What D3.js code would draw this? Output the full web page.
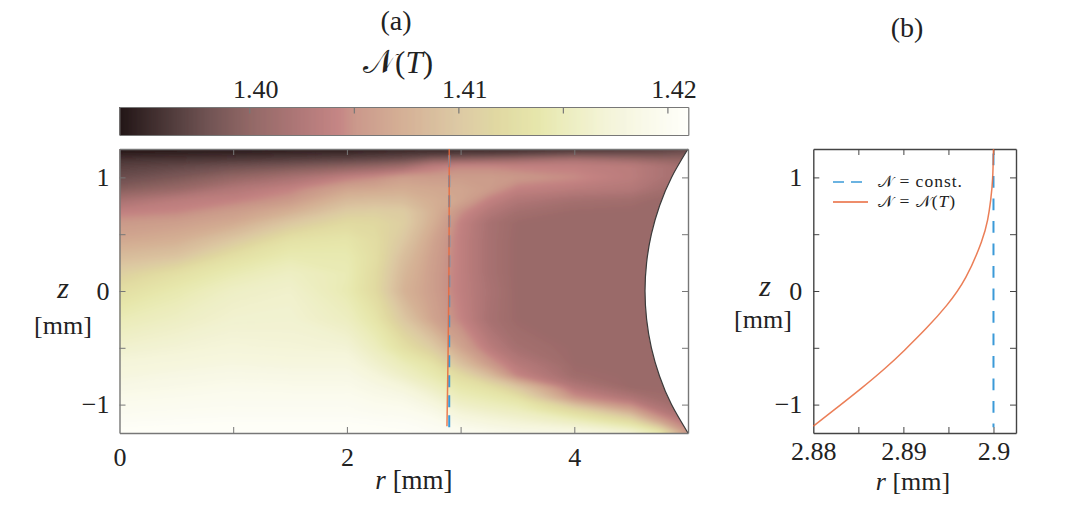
<!DOCTYPE html>
<html>
<head>
<meta charset="utf-8">
<script src="https://cdn.jsdelivr.net/npm/d3@7"></script>
<style>
  body { margin: 0; background: #fff; }
  text { font-family: "Liberation Serif", serif; fill: #222; }
</style>
</head>
<body>
<div id="chart"></div>
<script>
const width = 1080;
const height = 508;

// Colour map
const cmapN = [1.39378, 1.39616, 1.398, 1.400, 1.40235, 1.4043, 1.4050, 1.40711, 1.40997, 1.41188, 1.41378, 1.41497, 1.41711, 1.41997, 1.421];
const cmapColors = ["#1c0f10", "#4a3535", "#6d4f4f", "#8f6462", "#ad7474", "#c48382", "#c99588", "#d3ac92", "#dcc8a2", "#e0d8a0", "#e6e6aa", "#ebecbb", "#f4f4d8", "#fcfcf2", "#fffffb"];

// Grid nodes of the N(T) field
const fieldR = [0, 0.5, 1, 1.5, 2, 2.25, 2.5, 2.75, 3, 3.25, 3.5, 4, 4.5, 4.75, 5];
const fieldZ = [1.25, 1.2, 1.15, 1.1, 1, 0.9, 0.8, 0.7, 0.6, 0.45, 0.3, 0.15, 0, -0.25, -0.5, -0.65, -0.75, -0.85, -0.95, -1.05, -1.15, -1.25];

// One row per fieldZ, one column per fieldR
const fieldN = [
  [1.3943, 1.3945, 1.3945, 1.3947, 1.3948, 1.3950, 1.3952, 1.3954, 1.3955, 1.3955, 1.3957, 1.3960, 1.3965, 1.3970, 1.3975],
  [1.3950, 1.3953, 1.3955, 1.3958, 1.3960, 1.3963, 1.3966, 1.3968, 1.3970, 1.3972, 1.3975, 1.3985, 1.3985, 1.3985, 1.3990],
  [1.3963, 1.3965, 1.3968, 1.3972, 1.3977, 1.3980, 1.3985, 1.4000, 1.4005, 1.4010, 1.4015, 1.4025, 1.4015, 1.4008, 1.4005],
  [1.3970, 1.3975, 1.3982, 1.3988, 1.3997, 1.4003, 1.4012, 1.4035, 1.4045, 1.4045, 1.4042, 1.4040, 1.4035, 1.4025, 1.4015],
  [1.3980, 1.3990, 1.4005, 1.4020, 1.4040, 1.4048, 1.4060, 1.4058, 1.4058, 1.4058, 1.4055, 1.4048, 1.4036, 1.4025, 1.4015],
  [1.3995, 1.4007, 1.4028, 1.4042, 1.4065, 1.4068, 1.4072, 1.4068, 1.4066, 1.4058, 1.4042, 1.4035, 1.4030, 1.4018, 1.4010],
  [1.4020, 1.4035, 1.4042, 1.4055, 1.4085, 1.4088, 1.4087, 1.4074, 1.4066, 1.4042, 1.4028, 1.4018, 1.4015, 1.4010, 1.4010],
  [1.4040, 1.4045, 1.4058, 1.4075, 1.4105, 1.4108, 1.4105, 1.4078, 1.4050, 1.4030, 1.4017, 1.4011, 1.4010, 1.4010, 1.4010],
  [1.4055, 1.4060, 1.4070, 1.4100, 1.4122, 1.4120, 1.4108, 1.4075, 1.4042, 1.4020, 1.4011, 1.4010, 1.4010, 1.4010, 1.4010],
  [1.4068, 1.4075, 1.4100, 1.4132, 1.4137, 1.4125, 1.4100, 1.4066, 1.4040, 1.4020, 1.4010, 1.4010, 1.4010, 1.4010, 1.4010],
  [1.4088, 1.4097, 1.4130, 1.4145, 1.4144, 1.4127, 1.4090, 1.4062, 1.4040, 1.4020, 1.4010, 1.4010, 1.4010, 1.4010, 1.4010],
  [1.4110, 1.4130, 1.4146, 1.4157, 1.4147, 1.4123, 1.4083, 1.4060, 1.4040, 1.4020, 1.4010, 1.4010, 1.4010, 1.4010, 1.4010],
  [1.4128, 1.4143, 1.4158, 1.4163, 1.4145, 1.4122, 1.4078, 1.4060, 1.4040, 1.4022, 1.4010, 1.4010, 1.4010, 1.4010, 1.4010],
  [1.4148, 1.4157, 1.4166, 1.4167, 1.4155, 1.4137, 1.4100, 1.4065, 1.4044, 1.4020, 1.4011, 1.4010, 1.4010, 1.4010, 1.4010],
  [1.4165, 1.4170, 1.4174, 1.4172, 1.4170, 1.4153, 1.4130, 1.4105, 1.4065, 1.4036, 1.4018, 1.4010, 1.4010, 1.4010, 1.4010],
  [1.4175, 1.4178, 1.4182, 1.4180, 1.4180, 1.4165, 1.4150, 1.4135, 1.4095, 1.4058, 1.4033, 1.4011, 1.4010, 1.4010, 1.4010],
  [1.4180, 1.4185, 1.4188, 1.4187, 1.4187, 1.4175, 1.4160, 1.4145, 1.4125, 1.4090, 1.4045, 1.4014, 1.4010, 1.4010, 1.4010],
  [1.4187, 1.4190, 1.4193, 1.4192, 1.4192, 1.4185, 1.4175, 1.4158, 1.4140, 1.4130, 1.4100, 1.4030, 1.4010, 1.4010, 1.4010],
  [1.4193, 1.4195, 1.4197, 1.4197, 1.4197, 1.4192, 1.4188, 1.4172, 1.4153, 1.4145, 1.4135, 1.4055, 1.4028, 1.4015, 1.4010],
  [1.4198, 1.4200, 1.4201, 1.4201, 1.4201, 1.4198, 1.4196, 1.4187, 1.4168, 1.4160, 1.4153, 1.4120, 1.4065, 1.4030, 1.4015],
  [1.4203, 1.4204, 1.4205, 1.4205, 1.4205, 1.4204, 1.4203, 1.4198, 1.4185, 1.4177, 1.4170, 1.4155, 1.4125, 1.4065, 1.4030],
  [1.4207, 1.4208, 1.4208, 1.4208, 1.4208, 1.4207, 1.4206, 1.4204, 1.4200, 1.4195, 1.4190, 1.4185, 1.4170, 1.4145, 1.4055]
];

// Right hand edge of the domain
const edgeZ = [1.25, 1, 0.75, 0.5, 0.25, 0, -0.25, -0.5, -0.75, -1, -1.25];
const edgeR = [5, 4.855, 4.75, 4.678, 4.636, 4.622, 4.636, 4.678, 4.75, 4.855, 5];

// Ray N = N(T)
const rayZ = [1.25, 0.974, 0.798, 0.623, 0.465, 0.096, -0.132, -0.327, -0.532, -0.67, -0.868, -1.029, -1.19];
const rayR = [2.9, 2.89993, 2.8997, 2.89938, 2.89889, 2.89696, 2.89482, 2.8926, 2.89, 2.88816, 2.88519, 2.8826, 2.88];

// Ray N = const.
const constZ = [-1.2, 1.25];
const constR = [2.9, 2.9];

const cbarTicks = [1.40, 1.405, 1.41, 1.415, 1.42];
const cbarLabels = [1.40, 1.41, 1.42];
const zTicks = [-1, -0.5, 0, 0.5, 1];
const zLabels = [-1, 0, 1];
const rTicksA = [1, 2, 3, 4];
const rLabelsA = [0, 2, 4];
const rTicksB = [2.885, 2.89, 2.895, 2.9];
const rLabelsB = [2.88, 2.89, 2.9];

const blue = "#3b9ad8";
const orange = "#e8673a";
const N = "\u{1D4A9}";

const svg = d3.select("#chart").append("svg")
  .attr("width", width)
  .attr("height", height)
  .style("display", "block");

const color = d3.scaleLinear().domain(cmapN).range(cmapColors).clamp(true);

const yZ = d3.scaleLinear().domain([-1.25, 1.25]).range([433, 149]);
const xA = d3.scaleLinear().domain([0, 5]).range([119.5, 688]);
const xB = d3.scaleLinear().domain([2.88, 2.9025]).range([813.3, 1016]);
const xC = d3.scaleLinear().domain([1.39378, 1.421]).range([119.3, 688.3]);

// Blur + clip for the field
const defs = svg.append("defs");
defs.append("filter").attr("id", "soft")
  .attr("filterUnits", "userSpaceOnUse")
  .attr("x", 80).attr("y", 110).attr("width", 650).attr("height", 360)
  .append("feGaussianBlur").attr("stdDeviation", 2);

const edgeLine = d3.line()
  .x(d => xA(d[0]))
  .y(d => yZ(d[1]))
  .curve(d3.curveNatural);
const edgePts = edgeR.map((r, i) => [r, edgeZ[i]]);

defs.append("clipPath").attr("id", "domain").append("path")
  .attr("d", edgeLine(edgePts) + `L${xA(0)},${yZ(-1.25)}L${xA(0)},${yZ(1.25)}Z`);

// Field as filled contours; grid node i sits at contour coordinate i + 0.5
const gridX = d3.scaleLinear().domain(fieldR.map((d, i) => i + 0.5)).range(fieldR.map(d => xA(d)));
const gridY = d3.scaleLinear().domain(fieldZ.map((d, i) => i + 0.5)).range(fieldZ.map(d => yZ(d)));
const gridPath = d3.geoPath(d3.geoTransform({
  point(x, y) { this.stream.point(gridX(x), gridY(y)); }
}));

const bands = d3.contours()
  .size([fieldR.length, fieldZ.length])
  .thresholds(d3.range(1.3935, 1.4212, 0.0002))
  (fieldN.flat());

svg.append("g").attr("clip-path", "url(#domain)")
  .append("g").attr("filter", "url(#soft)")
  .selectAll("path")
  .data(bands)
  .join("path")
  .attr("d", gridPath)
  .attr("fill", d => color(d.value))
  .attr("stroke", d => color(d.value))
  .attr("stroke-width", 0.6);

svg.append("path")
  .attr("d", edgeLine(edgePts))
  .attr("fill", "none")
  .attr("stroke", "#3a3a3a")
  .attr("stroke-width", 1.2);

// Colour bar
const cbarStep = (xC.domain()[1] - xC.domain()[0]) / 569;
svg.append("g").selectAll("rect")
  .data(d3.range(xC.domain()[0], xC.domain()[1], cbarStep))
  .join("rect")
  .attr("x", d => xC(d))
  .attr("y", 107)
  .attr("width", xC(cbarStep) - xC(0) + 0.6)
  .attr("height", 28)
  .attr("fill", d => color(d));

// Frame with inward ticks on all sides, drawn by the d3 axes
function frame(x, y, xTicks, yTicks, stroke, strokeWidth) {
  const [l, r] = x.range();
  const [b, t] = y.range();
  const g = svg.append("g");
  g.append("g").attr("transform", `translate(0,${b})`)
    .call(d3.axisBottom(x).tickValues(xTicks).tickSize(-6).tickSizeOuter(0).tickFormat(""));
  g.append("g").attr("transform", `translate(0,${t})`)
    .call(d3.axisTop(x).tickValues(xTicks).tickSize(-6).tickSizeOuter(0).tickFormat(""));
  g.append("g").attr("transform", `translate(${l},0)`)
    .call(d3.axisLeft(y).tickValues(yTicks).tickSize(-6).tickSizeOuter(0).tickFormat(""));
  g.append("g").attr("transform", `translate(${r},0)`)
    .call(d3.axisRight(y).tickValues(yTicks).tickSize(-6).tickSizeOuter(0).tickFormat(""));
  g.selectAll("path, line").attr("stroke", stroke).attr("stroke-width", strokeWidth);
  g.selectAll(".domain").attr("stroke-width", strokeWidth + 0.4);
  return g;
}

frame(xA, yZ, rTicksA, zTicks, "#777", 1);
frame(xB, yZ, rTicksB, zTicks, "#444", 1);

// Colour bar frame: bottom line and top ticks
const cbarY = d3.scaleLinear().domain([0, 1]).range([135, 107]);
const cb = svg.append("g");
cb.append("g").attr("transform", "translate(0,107)")
  .call(d3.axisTop(xC).tickValues(cbarTicks).tickSize(-6.5).tickSizeOuter(0).tickFormat(""));
cb.append("g").attr("transform", "translate(0,135)")
  .call(d3.axisBottom(xC).tickValues([]).tickSizeOuter(0));
cb.append("g").attr("transform", `translate(${xC.range()[0]},0)`)
  .call(d3.axisLeft(cbarY).tickValues([]).tickSizeOuter(0));
cb.append("g").attr("transform", `translate(${xC.range()[1]},0)`)
  .call(d3.axisRight(cbarY).tickValues([]).tickSizeOuter(0));
cb.selectAll("path, line").attr("stroke", "#777").attr("stroke-width", 1.2);

// Tick labels
const minus = v => (v < 0 ? "\u2212" + Math.abs(v) : String(v));
function labels(axis, tx, ty) {
  const g = svg.append("g").attr("transform", `translate(${tx},${ty})`).call(axis);
  g.select(".domain").remove();
  g.selectAll("line").remove();
  g.selectAll("text").style("font-family", "Liberation Serif").attr("font-size", 26).attr("fill", "#222");
}
labels(d3.axisTop(xC).tickValues(cbarLabels).tickSize(0).tickPadding(9).tickFormat(d3.format(".2f")), 6, 107);
labels(d3.axisBottom(xA).tickValues(rLabelsA).tickSize(0).tickPadding(14.5).tickFormat(minus), 0, 433);
labels(d3.axisLeft(yZ).tickValues(zLabels).tickSize(0).tickPadding(10).tickFormat(minus), 119.5, 0);
labels(d3.axisBottom(xB).tickValues(rLabelsB).tickSize(0).tickPadding(8.5).tickFormat(d3.format("")), 0, 433);
labels(d3.axisLeft(yZ).tickValues(zLabels).tickSize(0).tickPadding(11).tickFormat(minus), 813.3, 0);

// Rays in both panels
function rays(x, dash, offset) {
  const line = d3.line().x(d => x(d[0])).y(d => yZ(d[1]));
  svg.append("path")
    .attr("d", line(constR.map((r, i) => [r, constZ[i]])))
    .attr("fill", "none")
    .attr("stroke", blue)
    .attr("stroke-width", 2)
    .attr("stroke-dasharray", dash)
    .attr("stroke-dashoffset", offset);
  svg.append("path")
    .attr("d", line.curve(d3.curveBasis)(rayR.map((r, i) => [r, rayZ[i]])))
    .attr("fill", "none")
    .attr("stroke", orange)
    .attr("stroke-width", 1.5)
    .attr("stroke-opacity", 0.85);
}
rays(xA, "12,8", 0);
rays(xB, "11.7,10.8", 8);

// Text helpers
function label(x, y, size, parts, calFactor = 1.05) {
  const t = svg.append("text").attr("x", x).attr("y", y)
    .attr("text-anchor", "middle").attr("font-size", size);
  parts.forEach(p => {
    const s = t.append("tspan").text(p[0]);
    if (p[1] === "i") s.attr("font-style", "italic");
    if (p[1] === "c") s.style("font-family", "'DejaVu Sans', 'Noto Sans', serif").attr("font-size", size * calFactor);
  });
  return t;
}

label(396, 30, 28, [["(a)"]]);
label(907, 37, 28, [["(b)"]]);
label(398, 73, 31, [[N, "c"], ["("], ["T", "i"], [")"]]);

label(414, 489, 27, [["r", "i"], [" [mm]"]]);
label(913, 490, 26, [["r", "i"], [" [mm]"]]);
label(63, 298, 30, [["z", "i"]]);
label(63, 334, 26, [["[mm]"]]);
label(765, 296, 30, [["z", "i"]]);
label(763, 328, 26, [["[mm]"]]);

// Legend
const legendX = d3.scaleLinear().domain([0, 1]).range([833, 868]);
svg.append("line")
  .attr("x1", legendX(0)).attr("x2", legendX(1)).attr("y1", 182).attr("y2", 182)
  .attr("stroke", blue).attr("stroke-width", 1.6).attr("stroke-dasharray", "11,7");
svg.append("line")
  .attr("x1", legendX(0)).attr("x2", legendX(1)).attr("y1", 202).attr("y2", 202)
  .attr("stroke", orange).attr("stroke-width", 1.5);
label(878, 187, 17.5, [[N, "c"], [" = const."]], 0.9).attr("text-anchor", "start").attr("letter-spacing", 1);
label(878, 207, 17.5, [[N, "c"], [" = "], [N, "c"], ["("], ["T", "i"], [")"]], 0.9).attr("text-anchor", "start").attr("letter-spacing", 1);
</script>
</body>
</html>
